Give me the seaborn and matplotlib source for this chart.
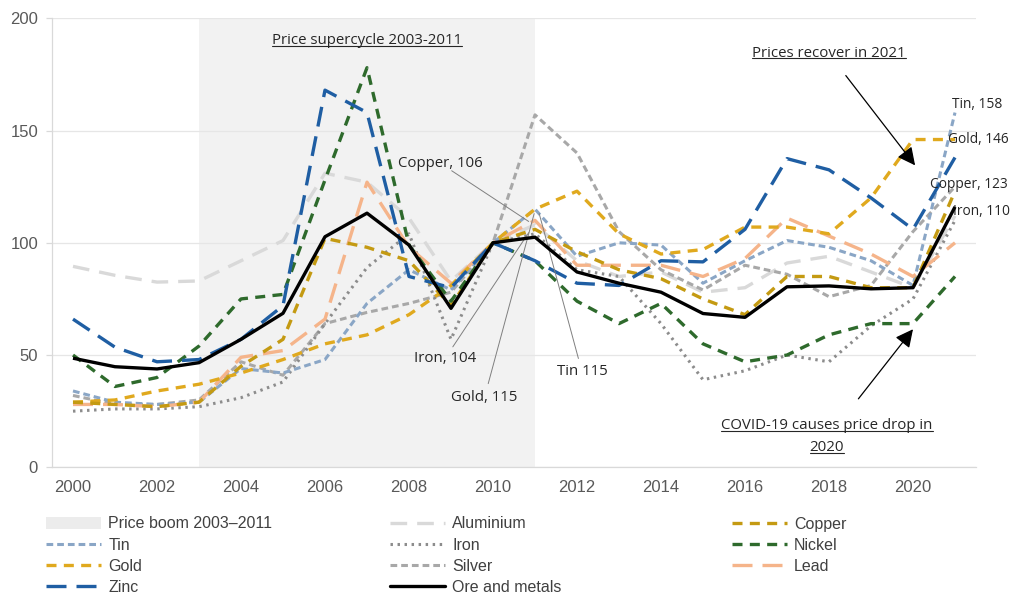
import matplotlib
matplotlib.use("Agg")
import matplotlib.pyplot as plt
from matplotlib.lines import Line2D
from matplotlib.patches import Patch
import seaborn as sns
import pandas as pd

# Metal price indices, 2010 = 100
years = list(range(2000, 2022))
aluminium = [89.5, 85.5, 82.5, 83, 92, 101, 131, 127, 111, 83, 100, 108, 92, 85, 87, 78, 80, 91, 94, 87, 80, 112]
copper = [29, 28, 27, 29, 45, 57, 102, 98, 92, 72, 100, 106, 96, 88, 84, 75, 68, 85, 85, 80, 80, 123]
tin = [34, 29, 28, 29, 44, 42, 48, 73, 88, 79, 100, 115, 94, 100, 99, 82, 92, 101, 98, 92, 81, 158]
iron = [25, 26, 26, 27, 31, 38, 64, 89, 104, 57, 100, 104, 88, 85, 64, 39, 43, 50, 47, 63, 75, 110]
nickel = [50, 36, 40, 54, 75, 77, 128, 178, 99, 74, 100, 92, 74, 64, 73, 55, 47, 50, 59, 64, 64, 85]
gold = [29, 30, 34, 37, 42, 48, 55, 59, 68, 81, 100, 115, 123, 104, 95, 97, 107, 107, 104, 120, 146, 146]
silver = [32, 28, 28, 30, 47, 41, 64, 69, 73, 78, 100, 157, 140, 105, 88, 79, 90, 86, 76, 81, 105, 125]
lead = [28, 28, 27, 29, 49, 52, 66, 127, 98, 82, 100, 110, 90, 90, 90, 85, 93, 111, 103, 95, 85, 100]
zinc = [66, 53.5, 47, 48, 57, 72, 168, 158, 85, 80, 100, 92, 82, 81, 92, 91.5, 106, 137.5, 132.5, 120, 106, 138]
ore_metals = [48.6, 44.8, 43.8, 46.6, 57, 68.6, 102.7, 113.2, 99, 70.8, 100, 102.5, 87, 82, 78, 68.5, 66.8, 80.4, 80.8, 79.5, 80, 116]

boom_start, boom_end = 2003, 2011
boom_label = "Price boom 2003\u20132011"

series = {
    "Aluminium": aluminium, "Copper": copper, "Tin": tin, "Iron": iron,
    "Nickel": nickel, "Gold": gold, "Silver": silver, "Lead": lead,
    "Zinc": zinc, "Ore and metals": ore_metals,
}

styles = {
    "Aluminium": dict(color="#d9d9d9", dashes=(5, 3), lw=2.4),
    "Copper": dict(color="#c49a12", dashes=(3, 2.2), lw=2.4),
    "Tin": dict(color="#8aa6c6", dashes=(2.2, 1.3), lw=2.2),
    "Iron": dict(color="#8c8c8c", dashes=(0.8, 1.5), lw=2.2),
    "Nickel": dict(color="#2e6a2c", dashes=(3, 2.2), lw=2.4),
    "Gold": dict(color="#e0a91e", dashes=(3, 2.2), lw=2.4),
    "Silver": dict(color="#a8a8a8", dashes=(2.2, 1.3), lw=2.2),
    "Lead": dict(color="#f5b48a", dashes=(6, 3), lw=2.4),
    "Zinc": dict(color="#1f5ea3", dashes=(6, 3), lw=2.4),
    "Ore and metals": dict(color="black", dashes=None, lw=2.4),
}

df = pd.DataFrame({"year": years, **series})
long = df.melt(id_vars="year", var_name="series", value_name="index")

sns.set_theme(style="white")
plt.rcParams["font.family"] = ["Liberation Sans", "DejaVu Sans"]

W, H, DPI = 1011, 596, 100
fig = plt.figure(figsize=(W / DPI, H / DPI), dpi=DPI)
ax = fig.add_axes([52 / W, 1 - 467.3 / H, 924 / W, 449 / H])

ax.axvspan(boom_start, boom_end, color="#f2f2f2", zorder=0, lw=0)

draw_order = ["Aluminium", "Silver", "Iron", "Tin", "Lead", "Gold", "Copper",
              "Nickel", "Zinc", "Ore and metals"]
for name in draw_order:
    st = styles[name]
    sub = long[long["series"] == name]
    sns.lineplot(data=sub, x="year", y="index", ax=ax, color=st["color"],
                 lw=st["lw"], zorder=3 if name != "Ore and metals" else 4)
    line = ax.lines[-1]
    if st["dashes"] is not None:
        line.set_dashes(st["dashes"])
    line.set_solid_capstyle("butt")

ax.set_xlim(1999.5, 2021.5)
ax.set_ylim(0, 200)
ax.set_yticks([0, 50, 100, 150, 200])
ax.set_xticks(list(range(2000, 2022, 2)))
ax.set_xticks([y + 0.5 for y in range(1999, 2022)], minor=True)
ax.set_xlabel("")
ax.set_ylabel("")
ax.grid(axis="y", color="#e6e6e6", lw=0.9)
ax.set_axisbelow(True)
for s in ["top", "right"]:
    ax.spines[s].set_visible(False)
for s in ["left", "bottom"]:
    ax.spines[s].set_color("#d9d9d9")
    ax.spines[s].set_linewidth(0.9)
ax.tick_params(axis="x", which="major", length=0, pad=9, labelsize=12, labelcolor="#595959")
ax.tick_params(axis="x", which="minor", length=4, color="#d9d9d9", width=0.9)
ax.tick_params(axis="y", length=4, color="#d9d9d9", width=0.9, pad=6, labelsize=12, labelcolor="#595959")
ax.tick_params(axis="y", left=True, direction="out")

ann_font = ["Open Sans", "DejaVu Sans"]
ann_col = "#262626"
ann_size = 10.8

underlined = []
t = ax.text(2007.0, 190, "Price supercycle 2003-2011", ha="center", va="center",
            fontsize=ann_size, color=ann_col, family=ann_font)
underlined.append(t)
t = ax.text(2018.0, 184.5, "Prices recover in 2021", ha="center", va="center",
            fontsize=ann_size, color=ann_col, family=ann_font)
underlined.append(t)
t = ax.text(2017.95, 18.5, "COVID-19 causes price drop in", ha="center", va="center",
            fontsize=ann_size, color=ann_col, family=ann_font)
underlined.append(t)
t = ax.text(2017.95, 8.7, "2020", ha="center", va="center",
            fontsize=ann_size, color=ann_col, family=ann_font)
underlined.append(t)

arrow_kw = dict(arrowstyle="-|>,head_length=0.9,head_width=0.45", color="black", lw=0.9,
                shrinkA=0, shrinkB=0)
ax.annotate("", xy=(2020.05, 134.5), xytext=(2018.4, 174.5), arrowprops=arrow_kw)
ax.annotate("", xy=(2020.0, 61.5), xytext=(2018.7, 30.5), arrowprops=arrow_kw)

# Callouts on the 2011 values
callouts = [
    ("Copper, 106", (2008.74, 135.5), (2010.85, 109.5)),
    ("Iron, 104", (2008.86, 48.5), (2010.85, 104.5)),
    ("Gold, 115", (2009.8, 31.3), (2010.98, 113)),
    ("Tin 115", (2012.12, 42.5), (2011.1, 113)),
]
line_kw = dict(arrowstyle="-", color="#7f7f7f", lw=0.7, shrinkA=10, shrinkB=0)
for label, txt_xy, tip in callouts:
    ax.annotate("", xy=tip, xytext=txt_xy, arrowprops=line_kw)
    ax.text(txt_xy[0], txt_xy[1], label, ha="center", va="center", fontsize=ann_size,
            color=ann_col, family=ann_font)

# End-of-period labels
end_labels = [("Tin, 158", 2020.92, 161.5), ("Gold, 146", 2020.84, 146),
              ("Copper, 123", 2020.4, 126), ("Iron, 110", 2020.95, 114)]
for label, x, y in end_labels:
    ax.text(x, y, label, ha="left", va="center", fontsize=9.9, color=ann_col,
            family=ann_font, clip_on=False)

# Legend laid out row by row in three columns
def handle(name):
    st = styles[name]
    h = Line2D([], [], color=st["color"], lw=st["lw"])
    if st["dashes"] is not None:
        h.set_dashes(st["dashes"])
    return h

boom_handle = Patch(facecolor="#ececec", edgecolor="none")
columns = [
    ([boom_handle, handle("Tin"), handle("Gold"), handle("Zinc")],
     [boom_label, "Tin", "Gold", "Zinc"], 46),
    ([handle("Aluminium"), handle("Iron"), handle("Silver"), handle("Ore and metals")],
     ["Aluminium", "Iron", "Silver", "Ore and metals"], 390),
    ([handle("Copper"), handle("Nickel"), handle("Lead")],
     ["Copper", "Nickel", "Lead"], 732),
]
for hs, ls, xpix in columns:
    leg = fig.legend(hs, ls, loc="upper left", bbox_to_anchor=(xpix / W, 1 - 516.5 / H),
                     frameon=False, handlelength=3.45, handletextpad=0.44,
                     labelspacing=0.38, borderpad=0, borderaxespad=0,
                     prop={"family": ["Liberation Sans", "DejaVu Sans"], "size": 11.5})
    for txt in leg.get_texts():
        txt.set_color("#404040")

fig.canvas.draw()
renderer = fig.canvas.get_renderer()
for t in underlined:
    bb = t.get_window_extent(renderer)
    y = (bb.y0 + 2.5) / H
    fig.add_artist(Line2D([bb.x0 / W, bb.x1 / W], [y, y], color=ann_col, lw=0.8))

fig.savefig("out.png", dpi=DPI)
